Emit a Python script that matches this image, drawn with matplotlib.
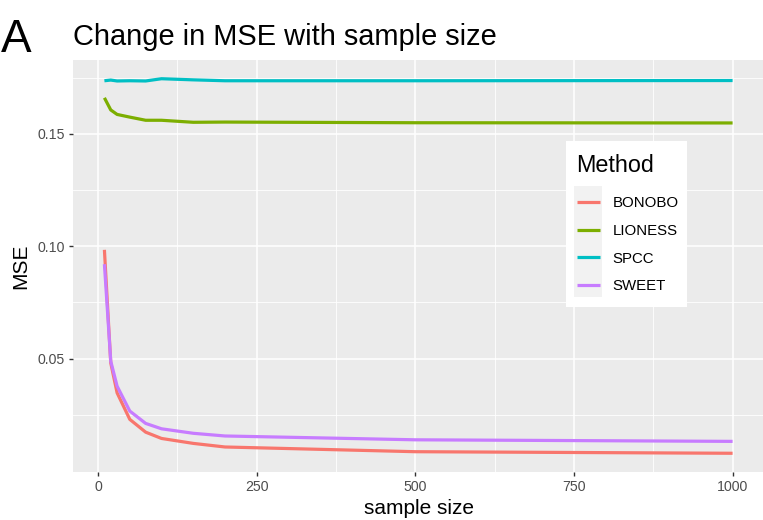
import numpy as np
import matplotlib
matplotlib.use("Agg")
import matplotlib.pyplot as plt
from matplotlib.patches import Rectangle

plt.rcParams['font.family'] = ['Liberation Sans', 'DejaVu Sans']

# MSE per method at each sample size
sample_size = [10, 20, 30, 50, 75, 100, 150, 200, 500, 1000]
bonobo = [0.0984, 0.0480, 0.0347, 0.0229, 0.0172, 0.0144, 0.0122, 0.0106, 0.0085, 0.0078]
lioness = [0.1661, 0.1607, 0.1587, 0.1575, 0.1561, 0.1561, 0.1552, 0.1553, 0.1550, 0.1549]
spcc = [0.1737, 0.1740, 0.1736, 0.1737, 0.1736, 0.1746, 0.1741, 0.1737, 0.1737, 0.1738]
sweet = [0.0920, 0.0488, 0.0377, 0.0266, 0.0211, 0.0187, 0.0167, 0.0155, 0.0138, 0.0131]

methods = ["BONOBO", "LIONESS", "SPCC", "SWEET"]
series = [bonobo, lioness, spcc, sweet]
colors = ["#F8766D", "#7CAE00", "#00BFC4", "#C77CFF"]

W, H = 763, 520
fig = plt.figure(figsize=(W / 100, H / 100), dpi=100)

# panel in pixel terms
left, right, top, bottom = 73, 764, 60, 472
ax = fig.add_axes([left / W, 1 - bottom / H, (right - left) / W, (bottom - top) / H])
ax.set_facecolor("#EBEBEB")
for s in ax.spines.values():
    s.set_visible(False)

for vals, c, name in zip(series, colors, methods):
    ax.plot(sample_size, vals, color=c, lw=2.3, label=name, solid_capstyle="butt", zorder=3)

# ggplot-style 5% expansion
xmin, xmax = min(sample_size), max(sample_size)
allv = np.concatenate([np.array(v) for v in series])
ymin, ymax = allv.min(), allv.max()
ax.set_xlim(xmin - 0.05 * (xmax - xmin), xmax + 0.05 * (xmax - xmin))
ax.set_ylim(ymin - 0.05 * (ymax - ymin), ymax + 0.05 * (ymax - ymin))

ax.set_xticks([0, 250, 500, 750, 1000])
ax.set_xticks([125, 375, 625, 875], minor=True)
ax.set_yticks([0.05, 0.10, 0.15])
ax.set_yticklabels(["0.05", "0.10", "0.15"])
ax.set_yticks([0.025, 0.075, 0.125, 0.175], minor=True)
ax.grid(which="major", color="white", lw=1.1, zorder=0)
ax.grid(which="minor", color="white", lw=0.6, zorder=0)
ax.set_axisbelow(True)
ax.tick_params(which="major", length=3, width=1, color="#333333",
               labelcolor="#4D4D4D", labelsize=10.2, pad=3)
ax.tick_params(which="minor", length=0)

ax.set_xlabel("sample size", fontsize=15, labelpad=3)
ax.set_ylabel("MSE", fontsize=15, labelpad=5)

fig.text(left / W, 1 - 45 / H, "Change in MSE with sample size", fontsize=20.9,
         va="baseline", ha="left")
fig.text(1 / W, 1 - 52 / H, "A", fontsize=33, va="baseline", ha="left")

# legend box with grey key background
box_l, box_t, box_r, box_b = 566, 141, 687, 307
ax.add_artist(Rectangle((box_l / W, 1 - box_b / H), (box_r - box_l) / W, (box_b - box_t) / H,
                        transform=fig.transFigure, facecolor="white", edgecolor="none",
                        zorder=4, clip_on=False))
ax.add_artist(Rectangle((574 / W, 1 - 297 / H), 28 / W, 111 / H,
                        transform=fig.transFigure, facecolor="#F2F2F2", edgecolor="none",
                        zorder=4.5, clip_on=False))
leg = ax.legend(title="Method", loc="upper left",
                bbox_to_anchor=((box_l - 3) / W, 1 - box_t / H), bbox_transform=fig.transFigure,
                frameon=False, fontsize=10.8, title_fontsize=16.8,
                handlelength=1.55, handletextpad=0.85, labelspacing=0.92,
                borderaxespad=0, borderpad=0.9, alignment="left")
leg._legend_box.sep = 13.3  # extra room under the title
leg.set_zorder(5)
for ln in leg.get_lines():
    ln.set_linewidth(2.3)

fig.savefig("out.png", dpi=100)
